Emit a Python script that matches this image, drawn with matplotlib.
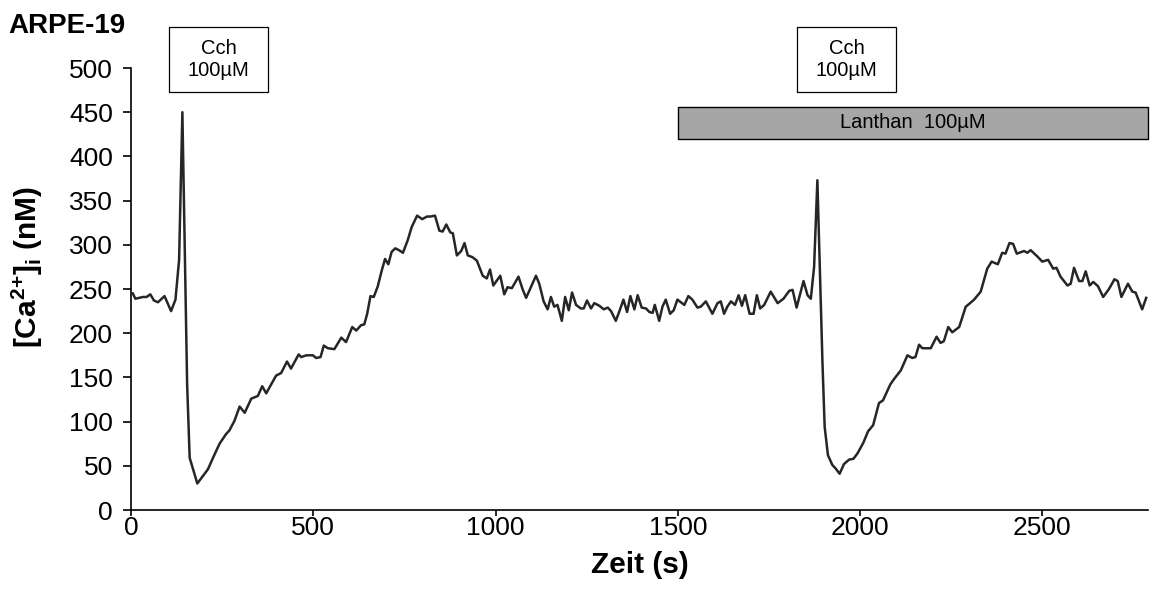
# ARPE-19: [Ca2+]i Verlauf nach Cch-Gabe, mit und ohne Lanthan
import matplotlib
matplotlib.use('Agg')
import matplotlib.pyplot as plt
from matplotlib.patches import Rectangle

plt.rcParams['font.family'] = ['Liberation Sans', 'DejaVu Sans']
plt.rcParams['mathtext.fontset'] = 'custom'
plt.rcParams['mathtext.rm'] = 'Liberation Sans'
plt.rcParams['mathtext.bf'] = 'Liberation Sans:bold'

# Zeitpunkte (s) und Werte (nM)
zeit = [5, 12, 33, 43, 53, 63, 74, 92, 110, 122, 132, 141, 154, 161, 182, 193,
        211, 225, 243, 261, 270, 284, 298, 312, 330, 348, 360, 371, 398, 412,
        428, 439, 460, 467, 481, 499, 508, 520, 529, 540, 558, 577, 590, 607,
        618, 631, 640, 648, 657, 666, 677, 688, 697, 706, 715, 725, 735, 746,
        759, 770, 785, 799, 812, 822, 834, 846, 855, 865, 876, 883, 894, 906,
        915, 924, 937, 949, 965, 976, 985, 994, 1013, 1024, 1033, 1045, 1063,
        1075, 1084, 1111, 1120, 1132, 1143, 1152, 1161, 1170, 1182, 1191,
        1201, 1210, 1221, 1234, 1242, 1251, 1262, 1271, 1285, 1297, 1308,
        1317, 1330, 1340, 1351, 1361, 1370, 1381, 1390, 1401, 1413, 1422,
        1431, 1437, 1449, 1458, 1467, 1479, 1489, 1499, 1518, 1529, 1540,
        1554, 1563, 1577, 1595, 1609, 1618, 1627, 1636, 1646, 1657, 1667,
        1676, 1685, 1697, 1708, 1717, 1726, 1737, 1755, 1774, 1790, 1806,
        1815, 1826, 1845, 1856, 1865, 1874, 1883, 1897, 1903, 1912, 1924,
        1933, 1944, 1956, 1970, 1982, 1993, 2009, 2022, 2036, 2052, 2063,
        2083, 2093, 2112, 2130, 2143, 2152, 2162, 2171, 2185, 2194, 2210,
        2221, 2230, 2242, 2253, 2272, 2290, 2299, 2313, 2331, 2340, 2349,
        2361, 2378, 2390, 2399, 2410, 2420, 2430, 2450, 2459, 2468, 2486,
        2500, 2516, 2530, 2539, 2550, 2569, 2578, 2587, 2601, 2610, 2619,
        2630, 2640, 2653, 2667, 2683, 2698, 2707, 2717, 2735, 2747, 2756,
        2774, 2785]
ca = [245, 239, 241, 241, 244, 237, 235, 242, 225, 238, 283, 450, 143, 59,
      30, 36, 46, 59, 75, 86, 90, 101, 117, 110, 126, 129, 140, 132, 152,
      155, 168, 160, 176, 173, 175, 175, 172, 173, 186, 183, 182, 195, 190,
      207, 203, 209, 210, 222, 242, 241, 253, 271, 284, 278, 292, 296, 294,
      291, 305, 320, 333, 329, 332, 332, 333, 316, 315, 323, 314, 313, 288,
      293, 302, 288, 286, 282, 265, 262, 272, 254, 265, 244, 252, 251, 264,
      249, 240, 265, 256, 236, 227, 241, 230, 232, 214, 241, 226, 246, 232,
      228, 228, 237, 228, 234, 231, 227, 229, 225, 214, 225, 238, 224, 242,
      227, 243, 229, 228, 224, 223, 232, 214, 230, 238, 222, 226, 238, 232,
      242, 238, 229, 230, 236, 222, 234, 236, 222, 230, 236, 232, 243, 231,
      243, 222, 222, 243, 228, 232, 247, 234, 239, 248, 249, 229, 259, 243,
      239, 275, 373, 166, 94, 62, 51, 47, 41, 52, 57, 58, 64, 76, 89, 96,
      121, 124, 142, 148, 158, 175, 172, 173, 187, 183, 183, 183, 196, 189,
      191, 207, 201, 207, 230, 233, 238, 247, 260, 273, 281, 278, 291, 290,
      302, 301, 290, 293, 291, 294, 287, 281, 283, 273, 274, 264, 254, 256,
      274, 259, 259, 270, 254, 258, 253, 241, 250, 261, 259, 241, 256, 247,
      246, 227, 240]

y_ticks = [0, 50, 100, 150, 200, 250, 300, 350, 400, 450, 500]
x_ticks = [0, 500, 1000, 1500, 2000, 2500]
lanthan_start, lanthan_end = 1500, 2790

fig = plt.figure(figsize=(11.54, 5.94), dpi=100)
ax = fig.add_axes([0.1135, 0.1414, 0.8813, 0.7441])

ax.plot(zeit, ca, color='#262626', linewidth=1.8)

ax.set_xlim(0, 2790)
ax.set_ylim(0, 500)
ax.set_xticks(x_ticks)
ax.set_yticks(y_ticks)
ax.tick_params(axis='both', direction='out', labelsize=19, width=1.2,
               colors='black')
ax.tick_params(axis='y', length=6, pad=7)
ax.tick_params(axis='x', length=4, pad=0.5)
for s in ['top', 'right']:
    ax.spines[s].set_visible(False)
for s in ['left', 'bottom']:
    ax.spines[s].set_linewidth(1.2)

ax.set_xlabel('Zeit (s)', fontsize=21.5, fontweight='bold', labelpad=8)
ax.set_ylabel(r'$\mathbf{[Ca^{2{+}}]}_\mathbf{i}$ $\mathbf{(nM)}$', fontsize=21.5,
              labelpad=10)
ax.yaxis.set_label_coords(-0.085, 0.55)

# Lanthan-Balken
ax.add_patch(Rectangle((lanthan_start, 420), lanthan_end - lanthan_start, 36,
                       facecolor='#a6a6a6', edgecolor='black', linewidth=1,
                       clip_on=False))
ax.text((lanthan_start + lanthan_end) / 2, 438, 'Lanthan  100µM', ha='center',
        va='center', fontsize=14.5)

# Cch-Kaesten
for x0 in [0.1464, 0.6906]:
    fig.add_artist(Rectangle((x0, 0.845), 0.0858, 0.1094, transform=fig.transFigure,
                             facecolor='white', edgecolor='black', linewidth=0.9))
    fig.text(x0 + 0.0429, 0.8997, 'Cch\n100µM', ha='center', va='center',
             fontsize=14.5, linespacing=1.15)

fig.text(0.007, 0.945, 'ARPE-19', fontsize=20, fontweight='bold', ha='left',
         va='baseline')

plt.savefig('out.png', dpi=100)
